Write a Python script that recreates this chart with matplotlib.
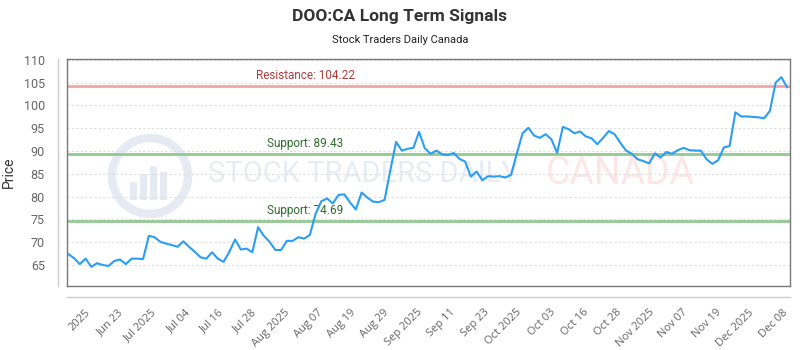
import numpy as np
import matplotlib
matplotlib.use('Agg')
import matplotlib.pyplot as plt
from matplotlib.patches import Circle, Rectangle
import matplotlib.transforms as mtransforms

# 종가 (일별, 거래일 기준)
prices = [
    67.4, 66.5, 65.2, 66.4, 64.6, 65.4, 65.0, 64.8, 65.9, 66.2,
    65.2, 66.4, 66.4, 66.3, 71.4, 71.1, 70.1, 69.7, 69.4, 69.0,
    70.2, 69.0, 67.9, 66.7, 66.4, 67.8, 66.4, 65.7, 67.9, 70.6,
    68.4, 68.6, 67.8, 73.3, 71.4, 70.1, 68.3, 68.3, 70.3, 70.3,
    71.1, 70.8, 71.6, 76.2, 79.0, 79.6, 78.5, 80.4, 80.5, 78.7,
    77.2, 80.9, 79.8, 78.9, 78.8, 79.3, 85.8, 92.0, 90.1, 90.5,
    90.7, 94.2, 90.6, 89.4, 90.1, 89.3, 89.1, 89.6, 88.3, 87.7,
    84.4, 85.5, 83.6, 84.5, 84.4, 84.5, 84.2, 84.8, 89.5, 93.9,
    95.1, 93.4, 92.9, 93.7, 92.6, 89.6, 95.3, 94.8, 93.9, 94.3,
    93.2, 92.8, 91.5, 92.9, 94.4, 93.7, 91.8, 90.1, 89.4, 88.2,
    87.8, 87.3, 89.5, 88.6, 89.8, 89.4, 90.2, 90.7, 90.2, 90.1,
    90.1, 88.2, 87.2, 88.0, 90.8, 91.1, 98.5, 97.6, 97.6, 97.5,
    97.4, 97.2, 98.8, 105.0, 106.2, 104.0,
]

tick_labels = ["2025", "Jun 23", "Jul 2025", "Jul 04", "Jul 16", "Jul 28",
               "Aug 2025", "Aug 07", "Aug 19", "Aug 29", "Sep 2025", "Sep 11",
               "Sep 23", "Oct 2025", "Oct 03", "Oct 16", "Oct 28", "Nov 2025",
               "Nov 07", "Nov 19", "Dec 2025", "Dec 08"]

resistance = 104.22
supports = [89.43, 74.69]

title = "DOO:CA Long Term Signals"
subtitle = "Stock Traders Daily Canada"

# 그래프 그리기
plt.rcParams['font.family'] = ['Roboto', 'DejaVu Sans']

fig = plt.figure(figsize=(8, 3.5), dpi=100)
ax = fig.add_axes([67 / 800, 1 - 286 / 350, 723 / 800, 227 / 350])

x = np.arange(len(prices))

# 워터마크
wm_col = '#e6ebf3'
ax.add_patch(Circle((1.50, 3.5 - 1.76), 0.38, transform=fig.dpi_scale_trans,
                    facecolor='none', edgecolor=wm_col, lw=6, zorder=0))
for bx, bh in [(1.30, 0.18), (1.40, 0.26), (1.50, 0.34), (1.60, 0.28)]:
    ax.add_patch(Rectangle((bx, 3.5 - 2.0), 0.07, bh, transform=fig.dpi_scale_trans,
                           facecolor=wm_col, edgecolor='none', zorder=0))
ax.text(3.63, 3.5 - 1.74, "STOCK TRADERS DAILY", transform=fig.dpi_scale_trans,
        ha='center', va='center', fontsize=21, color='#e7ecf3', zorder=0)
ax.text(6.20, 3.5 - 1.74, "CANADA", transform=fig.dpi_scale_trans,
        ha='center', va='center', fontsize=27, color='#fde6e6', zorder=0)

# 격자
for v in range(65, 111, 5):
    ax.axhline(v, color='#dddddd', lw=0.8, ls=(0, (2, 2)), zorder=1)

# 저항/지지선
trans = mtransforms.blended_transform_factory(ax.transAxes, ax.transData)
ax.axhline(resistance, color='#f4a5a5', lw=2, zorder=2)
ax.text(0.33, resistance + 0.9, f"Resistance: {resistance:.2f}", transform=trans,
        ha='center', va='bottom', fontsize=8.5, color='#b23b3b', zorder=3)
for s in supports:
    ax.axhline(s, color='#93c993', lw=2, zorder=2)
    ax.text(0.33, s + 0.9, f"Support: {s:.2f}", transform=trans,
            ha='center', va='bottom', fontsize=8.5, color='#2e6b2e', zorder=3)

ax.plot(x, prices, color='#2a9df4', lw=1.5, zorder=4)

ax.set_xlim(-0.23, 125.5)
ax.set_ylim(60.4, 110.2)

first, step = 2.9, 5.772
ax.set_xticks([first + step * i for i in range(len(tick_labels))])
ax.set_xticklabels(tick_labels, rotation=45, ha='right', rotation_mode='anchor',
                   family=['Open Sans', 'DejaVu Sans'])
ax.tick_params(axis='x', length=0, pad=15, labelsize=8, labelcolor='#666666')
ax.set_yticks(range(65, 111, 5))
ax.tick_params(axis='y', length=0, pad=16, labelsize=9, labelcolor='#666666')

for sp in ax.spines.values():
    sp.set_color('#777777')
    sp.set_linewidth(1)

# 축 밖의 회색 선
ax.plot([-0.013, -0.013], [0, 1], transform=ax.transAxes, color='#cccccc', lw=1, clip_on=False)
ax.plot([0, 1], [-0.047, -0.047], transform=ax.transAxes, color='#cccccc', lw=1, clip_on=False)

ax.set_ylabel("Price", fontsize=10, color='#333333')
ax.yaxis.set_label_coords(-0.0705, 0.5)

fig.text(0.5, 1 - 16 / 350, title, ha='center', va='center', fontsize=12.5,
         fontweight='bold', color='#333333')
fig.text(0.5, 1 - 40 / 350, subtitle, ha='center', va='center', fontsize=8,
         color='#222222')

fig.savefig('out.png', dpi=100)
